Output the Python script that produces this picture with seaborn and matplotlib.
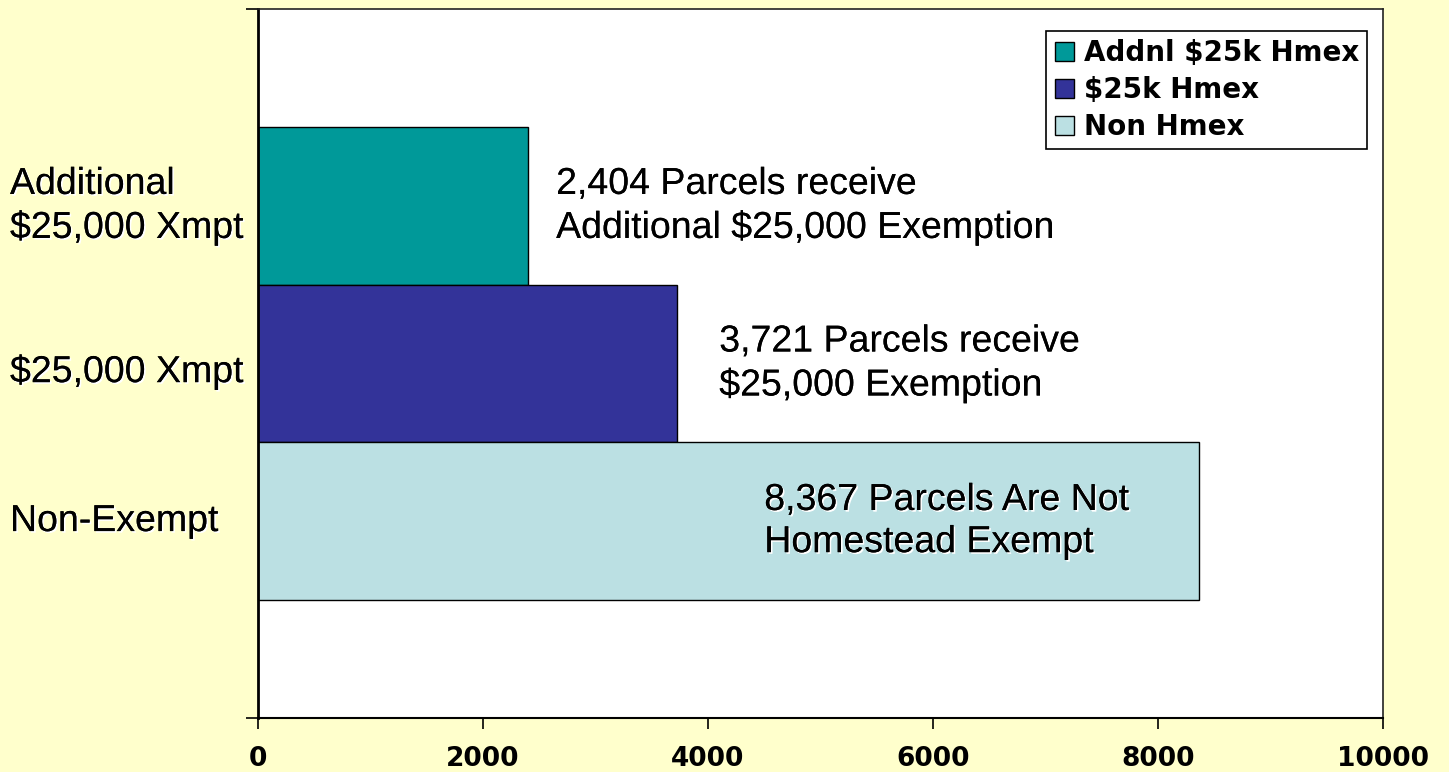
import matplotlib
matplotlib.use("Agg")
import matplotlib.pyplot as plt
import matplotlib.patheffects as pe
import pandas as pd
import seaborn as sns

categories = ["Additional\n$25,000 Xmpt", "$25,000 Xmpt", "Non-Exempt"]
series = ["Addnl $25k Hmex", "$25k Hmex", "Non Hmex"]
parcels = [2404, 3721, 8367]
notes = ["2,404 Parcels receive\nAdditional $25,000 Exemption",
         "3,721 Parcels receive\n$25,000 Exemption",
         "8,367 Parcels Are Not\nHomestead Exempt"]
note_x = [2650, 4100, 4500]
colors = ["#009999", "#333399", "#BBE0E3"]
x_ticks = [0, 2000, 4000, 6000, 8000, 10000]

plt.rcParams["font.family"] = ["Liberation Sans", "DejaVu Sans"]

df = pd.DataFrame({"category": categories, "series": series, "parcels": parcels})

fig = plt.figure(figsize=(14.49, 7.72), dpi=100, facecolor="#FFFFCC")
ax = fig.add_axes([258 / 1449, 54 / 772, 1125 / 1449, 709 / 772])
ax.set_facecolor("white")

sns.barplot(data=df, x="parcels", y="category", hue="series", hue_order=series,
            palette=colors, dodge=False, width=1, orient="h",
            edgecolor="black", linewidth=1, saturation=1, ax=ax)

ax.set_xlim(0, 10000)
ax.set_ylim(3.25, -1.25)
ax.set_xticks(x_ticks)
ax.set_xticklabels([str(t) for t in x_ticks], fontsize=19, fontweight="bold",
                   family="DejaVu Sans")
ax.set_yticks([-1.25, 3.25])
ax.set_yticklabels([])
ax.tick_params(axis="x", length=8, width=1.2, pad=12, direction="out")
ax.tick_params(axis="y", length=9, width=1.2, direction="out")
ax.set_xlabel("")
ax.set_ylabel("")

ax.spines["left"].set_linewidth(2)
ax.spines["bottom"].set_linewidth(1.5)
for s in ["top", "right"]:
    ax.spines[s].set_linewidth(1.2)
    ax.spines[s].set_color("#222222")

shadow = [pe.withSimplePatchShadow(offset=(1.2, -1.2), shadow_rgbFace="white", alpha=1),
          pe.Normal()]

for i, (note, nx) in enumerate(zip(notes, note_x)):
    ax.text(nx, i, note, fontsize=27, ha="left", va="center",
            linespacing=1.22, path_effects=shadow)

trans = matplotlib.transforms.blended_transform_factory(fig.transFigure, ax.transData)
label_y = [0, 1.05, 2]
for cat, ly in zip(categories, label_y):
    ax.text(10 / 1449, ly, cat, transform=trans, fontsize=27, ha="left",
            va="center", linespacing=1.22, path_effects=shadow, clip_on=False)

leg = ax.legend(loc="upper right", bbox_to_anchor=(0.986, 0.969), frameon=True,
                fancybox=False, framealpha=1, edgecolor="black",
                prop={"weight": "bold", "size": 20, "family": "DejaVu Sans"},
                handlelength=0.7, handleheight=0.7, handletextpad=0.35,
                borderpad=0.3, labelspacing=0.32, borderaxespad=0)
leg.get_frame().set_linewidth(1.2)
for h in leg.legend_handles:
    h.set_edgecolor("black")
    h.set_linewidth(1)

fig.savefig("out.png", dpi=100, facecolor=fig.get_facecolor())
